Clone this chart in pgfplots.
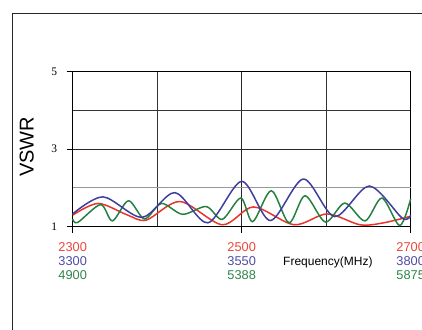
\documentclass[border=0pt]{standalone}
\usepackage{pgfplots}
\pgfplotsset{compat=1.18}
\usepackage{fontspec}
\setmainfont{Liberation Sans}
\newfontfamily\serif{Liberation Serif}
\definecolor{cred}{RGB}{232,52,42}
\definecolor{cblue}{RGB}{62,62,158}
\definecolor{cgreen}{RGB}{38,128,66}
\definecolor{tred}{RGB}{236,70,58}
\definecolor{tblue}{RGB}{76,76,164}
\definecolor{tgreen}{RGB}{48,132,76}
\begin{document}
\begin{tikzpicture}
\path[use as bounding box] (0,0) rectangle (422pt,329pt);
\draw[line width=1.5pt, black!85] (12.7pt,-20pt) -- (12.7pt,315.7pt) -- (450pt,315.7pt);
\begin{axis}[
  at={(72.7pt,102.3pt)}, anchor=south west,
  width=338pt, height=155pt, scale only axis,
  xmin=2300, xmax=2700, ymin=1, ymax=5,
  xtick={2300,2500,2700},
  xticklabels={{{\color{tred}2300}\\{\color{tblue}3300}\\{\color{tgreen}4900}},
               {{\color{tred}2500}\\{\color{tblue}3550}\\{\color{tgreen}5388}},
               {{\color{tred}2700}\\{\color{tblue}3800}\\{\color{tgreen}5875}}},
  xticklabel style={align=center, font=\fontsize{12.8}{13.8}\selectfont, inner sep=1pt, yshift=-9pt},
  ytick={1,3,5}, yticklabels={1,3,5},
  yticklabel style={font=\serif\fontsize{11.5}{12}\selectfont, xshift=-6pt},
  minor xtick={2400,2600}, minor ytick={4},
  extra y ticks={2}, extra y tick labels={},
  extra y tick style={major tick length=0pt, major grid style={black!40, line width=0.9pt}},
  grid=both,
  major grid style={black!85, line width=0.9pt},
  minor grid style={black!80, line width=0.9pt},
  tick align=outside, major tick length=6pt, minor tick length=0pt,
  major tick style={black, line width=1pt},
  axis line style={black, line width=1.5pt},
  xtick pos=bottom, ytick pos=left,
  xlabel={Frequency(MHz)},
  x label style={at={(rel axis cs:0.755,0)}, anchor=center, yshift=-36pt, font=\fontsize{12}{13}\selectfont},
  ylabel={VSWR},
  y label style={at={(rel axis cs:-0.136,0.516)}, anchor=center, font=\fontsize{20}{22}\selectfont},
  clip=false,
]
\addplot[cred, line width=1.5pt, smooth] coordinates {
(2300,1.30) (2330,1.60) (2364,1.31) (2387,1.17) (2427,1.65) (2477,1.05)
(2514,1.51) (2562,1.05) (2601,1.33) (2640,1.05) (2668,1.10) (2700,1.27)};
\addplot[cgreen, line width=1.5pt, smooth] coordinates {
(2300,1.20) (2306,1.11) (2333,1.57) (2347,1.15) (2366,1.67) (2385,1.20)
(2405,1.60) (2430,1.32) (2458,1.52) (2477,1.19) (2499,1.74) (2513,1.13)
(2535,1.93) (2556,1.10) (2575,1.80) (2599,1.12) (2622,1.61) (2646,1.15)
(2666,1.74) (2687,1.03) (2700,1.72)};
\addplot[cblue, line width=1.5pt, smooth] coordinates {
(2300,1.33) (2336,1.77) (2382,1.24) (2421,1.88) (2460,1.10) (2500,2.17)
(2534,1.16) (2573,2.23) (2610,1.26) (2651,2.05) (2690,1.22) (2700,1.29)};
\end{axis}
\end{tikzpicture}
\end{document}
